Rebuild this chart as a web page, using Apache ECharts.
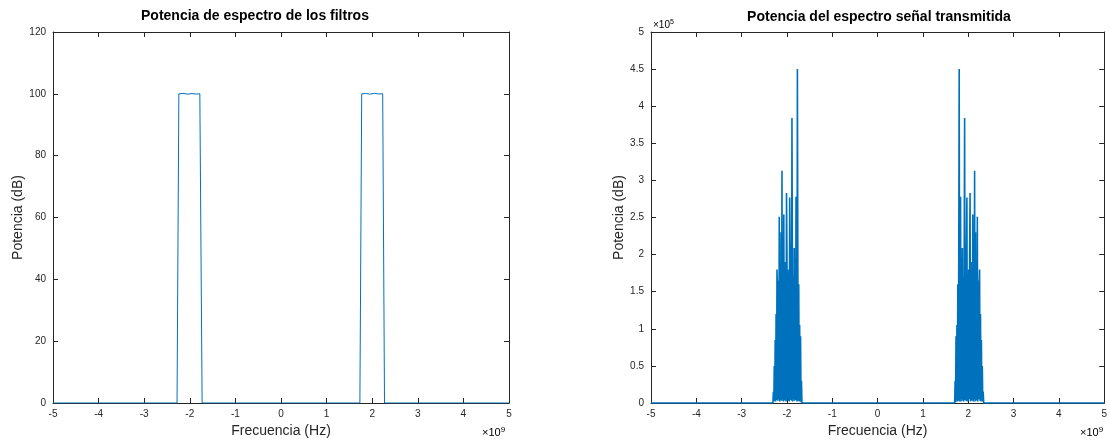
<!DOCTYPE html>
<html>
<head>
<meta charset="utf-8">
<script src="https://cdn.jsdelivr.net/npm/echarts@6/dist/echarts.min.js"></script>
<style>
html,body{margin:0;padding:0;background:#fff;}
#c{width:1110px;height:443px;}
</style>
</head>
<body>
<div id="c"></div>
<script>
// ---- Data (frequency in units of 1e9 Hz) ----
const titles = ['Potencia de espectro de los filtros', 'Potencia del espectro señal transmitida'];
const xName = 'Frecuencia (Hz)';
const yName = 'Potencia (dB)';
const xTicks = [-5, -4, -3, -2, -1, 0, 1, 2, 3, 4, 5];
const yTicksLeft = [0, 20, 40, 60, 80, 100, 120];
const yTicksRight = [0, 0.5, 1, 1.5, 2, 2.5, 3, 3.5, 4, 4.5, 5]; // units of 1e5

// Filter power (left chart)
const filterFreq = [-5, -2.28, -2.24, -2.15, -2.05, -1.95, -1.85, -1.78, -1.73,
                    1.73, 1.77, 1.85, 1.95, 2.05, 2.15, 2.23, 2.27, 5];
const filterPower = [0, 0, 100, 100.15, 99.9, 100.1, 99.9, 100.05, 0,
                     0, 100, 100.1, 99.9, 100.15, 99.95, 100.05, 0, 0];

// Transmitted-signal spectrum (right chart), values in units of 1e5
const negFreq = [-2.31,-2.30,-2.29,-2.28,-2.27,-2.26,-2.25,-2.24,-2.23,-2.22,-2.21,-2.20,-2.19,-2.18,-2.17,-2.16,
  -2.15,-2.14,-2.13,-2.12,-2.11,-2.10,-2.09,-2.08,-2.07,-2.06,-2.05,-2.04,-2.03,-2.02,-2.01,-2.00,
  -1.99,-1.98,-1.97,-1.96,-1.95,-1.94,-1.93,-1.92,-1.91,-1.90,-1.89,-1.88,-1.87,-1.86,-1.85,-1.84,
  -1.83,-1.82,-1.81,-1.80,-1.79,-1.78,-1.77,-1.76,-1.75,-1.74,-1.73,-1.72,-1.71,-1.70,-1.69,-1.68,-1.67];
const negPower = [0,0.15,0.02,0.5,0.03,0.85,0.02,1.2,0.04,1.80,1.5,0.03,1.65,0.05,2.51,0.02,
  1.6,0.04,2.3,0.03,3.13,0.05,1.75,0.02,2.54,0.04,1.9,0.03,1.7,0.02,2.83,2.0,
  0.05,1.8,0.03,1.55,0.02,2.77,2.1,0.04,1.6,0.03,3.84,1.85,0.02,1.7,0.05,2.09,
  0.03,1.95,0.04,2.78,2.2,0.02,4.5,1.9,0.03,1.6,0.02,1.05,0.03,0.9,0.01,0.3,0];
const posFreq = [1.70,1.71,1.72,1.73,1.74,1.75,1.76,1.77,1.78,1.79,1.80,1.81,1.82,1.83,1.84,1.85,
  1.86,1.87,1.88,1.89,1.90,1.91,1.92,1.93,1.94,1.95,1.96,1.97,1.98,1.99,2.00,2.01,
  2.02,2.03,2.04,2.05,2.06,2.07,2.08,2.09,2.10,2.11,2.12,2.13,2.14,2.15,2.16,2.17,
  2.18,2.19,2.20,2.21,2.22,2.23,2.24,2.25,2.26,2.27,2.28,2.29,2.30,2.31,2.32,2.33,2.34];
const posPower = [0,0.3,0.01,0.9,0.03,1.05,0.02,1.6,0.03,1.9,4.5,0.02,2.2,2.78,0.02,1.95,
  0.05,2.09,0.03,1.7,0.02,1.85,3.84,0.04,1.6,0.03,2.1,2.77,0.02,1.55,0.03,1.8,
  0.05,2.0,2.83,0.02,1.7,0.03,1.9,0.04,2.54,0.02,1.75,0.05,3.13,0.02,2.3,0.03,
  1.6,0.04,2.51,0.02,1.65,0.05,1.5,1.80,0.03,1.2,0.02,0.85,0.03,0.5,0.02,0.15,0];
const edgeFreq = [-5, 5];

// ---- Build series data ----
const filterData = filterFreq.map((f, i) => [f, filterPower[i]]);
const spectrumData = [[edgeFreq[0], 0]]
  .concat(negFreq.map((f, i) => [f, negPower[i]]))
  .concat(posFreq.map((f, i) => [f, posPower[i]]))
  .concat([[edgeFreq[1], 0]]);

const TXT = '#262626';
const FONT = '"Liberation Sans", Arial, Helvetica, sans-serif';
const LINE = '#0072BD';

function xAxes(grid) {
  return [
    { type: 'value', gridIndex: grid, min: xTicks[0], max: xTicks[xTicks.length-1], interval: 1,
      name: xName, nameLocation: 'middle', nameGap: 21,
      nameTextStyle: { fontSize: 14, color: TXT, fontFamily: FONT },
      axisLine: { show: true, onZero: false, lineStyle: { color: TXT, width: 1 } },
      axisTick: { show: true, inside: true, length: 5, lineStyle: { color: TXT } },
      axisLabel: { fontSize: 10, color: TXT, fontFamily: FONT, margin: 6 },
      splitLine: { show: false } },
    { type: 'value', gridIndex: grid, position: 'top', min: xTicks[0], max: xTicks[xTicks.length-1], interval: 1,
      axisLine: { show: true, onZero: false, lineStyle: { color: TXT, width: 1 } },
      axisTick: { show: true, inside: true, length: 5, lineStyle: { color: TXT } },
      axisLabel: { show: false }, splitLine: { show: false } }
  ];
}
function yAxes(grid, ticks, gap) {
  const mn = ticks[0], mx = ticks[ticks.length-1], iv = ticks[1]-ticks[0];
  return [
    { type: 'value', gridIndex: grid, min: mn, max: mx, interval: iv,
      name: yName, nameLocation: 'middle', nameGap: gap,
      nameTextStyle: { fontSize: 14, color: TXT, fontFamily: FONT },
      axisLine: { show: true, onZero: false, lineStyle: { color: TXT, width: 1 } },
      axisTick: { show: true, inside: true, length: 5, lineStyle: { color: TXT } },
      axisLabel: { fontSize: 10, color: TXT, fontFamily: FONT, margin: 7 },
      splitLine: { show: false } },
    { type: 'value', gridIndex: grid, position: 'right', min: mn, max: mx, interval: iv,
      axisLine: { show: true, onZero: false, lineStyle: { color: TXT, width: 1 } },
      axisTick: { show: true, inside: true, length: 5, lineStyle: { color: TXT } },
      axisLabel: { show: false }, splitLine: { show: false } }
  ];
}

const chart = echarts.init(document.getElementById('c'), null, { renderer: 'canvas' });
chart.setOption({
  animation: false,
  backgroundColor: '#fff',
  grid: [
    { left: 53, right: 601, top: 32, bottom: 35 },
    { left: 651, right: 3, top: 32, bottom: 35 }
  ],
  xAxis: xAxes(0).concat(xAxes(1)),
  yAxis: yAxes(0, yTicksLeft, 28).concat(yAxes(1, yTicksRight, 24)),
  series: [
    { type: 'line', xAxisIndex: 0, yAxisIndex: 0, data: filterData, showSymbol: false,
      lineStyle: { color: LINE, width: 1 } },
    { type: 'line', xAxisIndex: 2, yAxisIndex: 2, data: spectrumData, showSymbol: false,
      lineStyle: { color: LINE, width: 1.6 } }
  ],
  graphic: [
    { type: 'text', left: 281 - 140, top: 9, style: { text: titles[0], font: 'bold 14px ' + FONT, fill: '#000', width: 280, align: 'center' } },
    { type: 'text', x: 879, y: 17, style: { text: titles[1], font: 'bold 14px ' + FONT, fill: '#000', align: 'center', verticalAlign: 'middle' } },
    { type: 'text', x: 482, y: 426, style: { rich: { a: { fontSize: 11, fontFamily: FONT, color: TXT }, b: { fontSize: 8, fontFamily: FONT, color: TXT, padding: [0,0,6,0] } }, text: '{a|×10}{b|9}' } },
    { type: 'text', x: 1080, y: 426, style: { rich: { a: { fontSize: 11, fontFamily: FONT, color: TXT }, b: { fontSize: 8, fontFamily: FONT, color: TXT, padding: [0,0,6,0] } }, text: '{a|×10}{b|9}' } },
    { type: 'text', x: 653, y: 19, style: { rich: { a: { fontSize: 10, fontFamily: FONT, color: TXT }, b: { fontSize: 7, fontFamily: FONT, color: TXT, padding: [0,0,6,0] } }, text: '{a|×10}{b|5}' } }
  ]
});
</script>
</body>
</html>
